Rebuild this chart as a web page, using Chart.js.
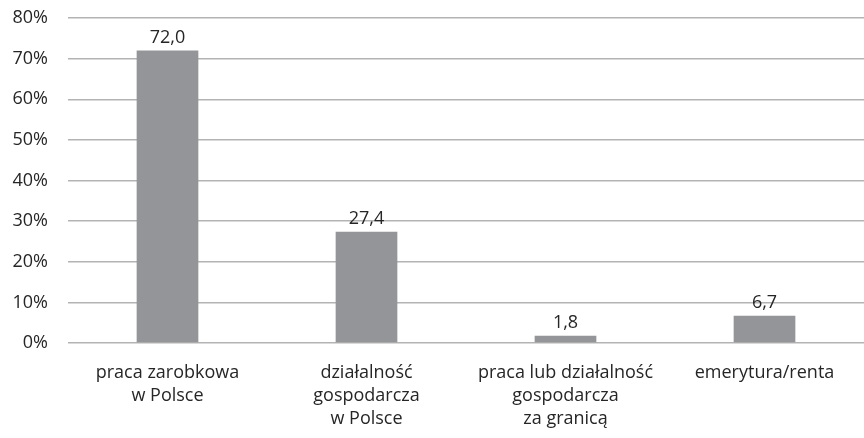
<!DOCTYPE html>
<html>
<head>
<meta charset="utf-8">
<script src="https://cdn.jsdelivr.net/npm/chart.js@4"></script>
<style>
	html, body { margin: 0; padding: 0; background: #fff; }
	#wrap { width: 864px; height: 438px; }
</style>
</head>
<body>
<div id="wrap"><canvas id="chart"></canvas></div>
<script>
const categories = [
	['praca zarobkowa', 'w Polsce'],
	['działalność', 'gospodarcza', 'w Polsce'],
	['praca lub działalność', 'gospodarcza', 'za granicą'],
	['emerytura/renta']
];
const values = [72.0, 27.4, 1.8, 6.7];
const yTicks = [0, 10, 20, 30, 40, 50, 60, 70, 80];

const font = { family: '"Open Sans", "Liberation Sans", sans-serif', size: 18, lineHeight: 1.28 };

function fmt(n){
	return n.toFixed(1).replace('.', ',');
}

// draws the value above each bar
const valueLabels = {
	id: 'valueLabels',
	afterDatasetsDraw(chart){
		const ctx = chart.ctx;
		const meta = chart.getDatasetMeta(0);
		ctx.save();
		ctx.font = font.size + 'px ' + font.family;
		ctx.fillStyle = '#262626';
		ctx.textAlign = 'center';
		ctx.textBaseline = 'bottom';
		meta.data.forEach((bar, i) => {
			ctx.fillText(fmt(values[i]), bar.x, bar.y - 4);
		});
		ctx.restore();
	}
};

new Chart(document.getElementById('chart'), {
	type: 'bar',
	data: {
		labels: categories,
		datasets: [{
			data: values,
			backgroundColor: '#939598',
			categoryPercentage: 1,
			barPercentage: 0.31
		}]
	},
	options: {
		responsive: true,
		maintainAspectRatio: false,
		animation: false,
		layout: { padding: 0 },
		plugins: { legend: { display: false }, tooltip: { enabled: false } },
		scales: {
			x: {
				grid: { display: false },
				border: { display: false },
				ticks: { color: '#262626', font, maxRotation: 0, autoSkip: false, padding: 10 },
				afterFit(scale){ scale.height = 95; }
			},
			y: {
				min: 0,
				max: 80,
				afterBuildTicks(scale){ scale.ticks = yTicks.map(v => ({ value: v })); },
				grid: { color: '#b3b3b3', lineWidth: 1.5, drawTicks: false },
				border: { display: false },
				ticks: { color: '#262626', font, padding: 20, callback: v => v + '%' },
				afterFit(scale){ scale.width = 68; scale.paddingTop = 18; scale.paddingBottom = 0; }
			}
		}
	},
	plugins: [valueLabels]
});
</script>
</body>
</html>
